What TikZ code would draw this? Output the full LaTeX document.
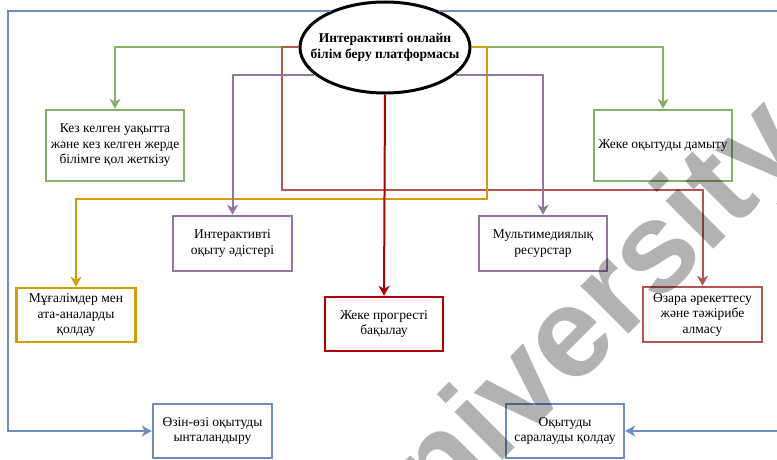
\documentclass[tikz,border=0pt]{standalone}
\usepackage{fontspec}
\setmainfont{Liberation Serif}
\newfontfamily\wmfont{Liberation Sans}
\usetikzlibrary{arrows.meta,shapes.geometric}
\definecolor{gcol}{HTML}{82B366}
\definecolor{bcol}{HTML}{6C8EBF}
\definecolor{pcol}{HTML}{9673A6}
\definecolor{ocol}{HTML}{D79B00}
\definecolor{rcol}{HTML}{B85450}
\definecolor{dcol}{HTML}{B20000}
\begin{document}
\begin{tikzpicture}[x=1pt,y=-1pt,
    box/.style={draw, line width=2.5pt, fill=white, align=center, inner sep=2pt,
      font=\fontsize{13.5}{15.5}\selectfont},
    link/.style={line width=2pt, -{Stealth[length=10pt,width=11pt,inset=3pt]}},
    watermark/.style={text=black, opacity=0.3, rotate=45,
      font=\wmfont\bfseries\fontsize{128}{128}\selectfont}]
  \useasboundingbox (0,0) rectangle (777,460);
  \node[draw, ellipse, line width=3pt, minimum width=170pt, minimum height=91pt,
    inner xsep=-18pt, inner ysep=0pt, align=center,
    font=\bfseries\fontsize{13.5}{15.5}\selectfont]
    (plat) at (385,47.5) {Интерактивті онлайн\\білім беру платформасы};
  \node[box, draw=gcol, minimum width=138pt, minimum height=71pt] (access) at (115,145.5)
    {Кез келген уақытта\\және кез келген жерде\\білімге қол жеткізу};
  \node[box, draw=gcol, minimum width=138pt, minimum height=71pt] (personal) at (663,145.5)
    {Жеке оқытуды дамыту};
  \node[box, draw=pcol, minimum width=119pt, minimum height=55pt] (methods) at (232.5,243.5)
    {Интерактивті\\оқыту әдістері};
  \node[box, draw=pcol, minimum width=128pt, minimum height=55pt] (media) at (543,243.5)
    {Мультимедиялық\\ресурстар};
  \node[box, draw=ocol, minimum width=119pt, minimum height=54pt] (parents) at (76,315)
    {Мұғалімдер мен\\ата-аналарды\\қолдау};
  \node[box, draw=dcol, minimum width=118pt, minimum height=54pt] (progress) at (384,324)
    {Жеке прогресті\\бақылау};
  \node[box, draw=rcol, minimum width=119pt, minimum height=55pt] (exchange) at (702.5,314.5)
    {Өзара әрекеттесу\\және тәжірибе\\алмасу};
  \node[box, draw=bcol, minimum width=119pt, minimum height=54pt] (motiv) at (212.5,431)
    {Өзін-өзі оқытуды\\ынталандыру};
  \node[box, draw=bcol, minimum width=118pt, minimum height=54pt] (diff) at (565,431)
    {Оқытуды\\саралауды қолдау};
  \draw[link, bcol] (plat.146) -| (8,431) -- (motiv.west);
  \draw[link, bcol] (plat.34) -| (779,431) -- (diff.east);
  \draw[link, gcol] (plat.west) -| (access.north);
  \draw[link, gcol] (plat.east) -| (personal.north);
  \draw[link, rcol] (plat.west) -| (282,190) -| (exchange.north);
  \draw[link, ocol] (plat.east) -| (487,199) -| (parents.north);
  \draw[link, pcol] (plat.201) -| (methods.north);
  \draw[link, pcol] (plat.339) -| (media.north);
  \draw[link, dcol] (plat.south) -- (progress.north);
  \node[watermark] (wm) at (571,345) {University};
\end{tikzpicture}
\end{document}
